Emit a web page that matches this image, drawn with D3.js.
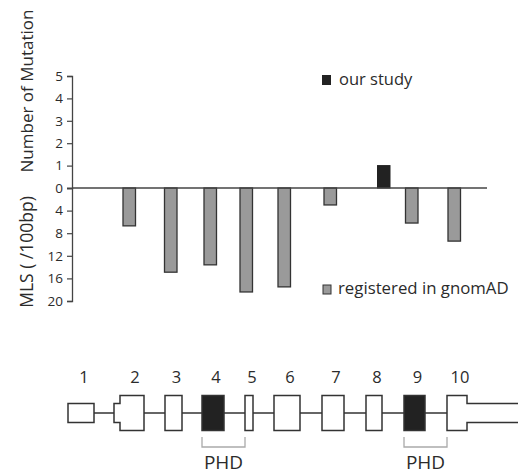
<!DOCTYPE html>
<html>
<head>
<meta charset="utf-8">
<script src="https://cdn.jsdelivr.net/npm/d3@7"></script>
<style>
  body { margin: 0; background: #fff; }
  text { font-family: "Open Sans", "Noto Sans", sans-serif; fill: #2b2b2b; }
  .tick text { font-size: 13.5px; }
</style>
</head>
<body>
<svg id="chart" width="518" height="475"></svg>
<script>
// exons of the gene, bars hang off each exon
var exonIds = ["1", "2", "3", "4", "5", "6", "7", "8", "9", "10"];
var ourStudy = [0, 0, 0, 0, 0, 0, 0, 1, 0, 0];
var gnomadMLS = [0, 6.7, 14.9, 13.6, 18.4, 17.5, 3.0, 0, 6.2, 9.4];

// gene structure in gene coordinate units
var utrStart = [0, 46, null, null, null, null, null, null, null, 399];
var utrEnd = [26, 52, null, null, null, null, null, null, null, 470];
var cdsStart = [null, 52, 97, 134, 177, 206, 254, 298, 336, 379];
var cdsEnd = [null, 76, 114, 156, 185, 232, 276, 314, 357, 399];
var phdExons = [["4", "5"], ["9", "10"]];

var countTicks = [0, 1, 2, 3, 4, 5];
var mlsTicks = [4, 8, 12, 16, 20];

var svg = d3.select("#chart");

var geneX = d3.scaleLinear().domain([0, 450]).range([68, 518]);
var yCount = d3.scaleLinear().domain([0, 5]).range([188, 76]);
var yMLS = d3.scaleLinear().domain([0, 20]).range([188, 301]);
var sub = d3.scaleBand().domain(["gnomad", "our"]).range([-9, 16]);

function exonCenter(i) {
    return geneX((cdsStart[i] + cdsEnd[i]) / 2);
}

// ---- y axes ----
var axisG = svg.append("g").attr("transform", "translate(72,0)");
axisG.append("g").call(d3.axisLeft(yCount).tickValues(countTicks).tickSize(5).tickPadding(4).tickFormat(d3.format("d")));
axisG.append("g").call(d3.axisLeft(yMLS).tickValues(mlsTicks).tickSize(5).tickPadding(4).tickFormat(d3.format("d")));
axisG.selectAll("g").attr("font-size", 13.5).attr("font-family", null);
axisG.selectAll(".domain").attr("stroke", "#444").attr("stroke-width", 1.3);
axisG.selectAll(".tick line").attr("stroke", "#444").attr("stroke-width", 1.2);
axisG.selectAll(".tick text").attr("font-size", 13.5).attr("fill", "#2b2b2b");

svg.append("text")
    .attr("transform", "translate(33,91) rotate(-90)")
    .attr("text-anchor", "middle")
    .style("font-size", "17px")
    .text("Number of Mutation");

svg.append("text")
    .attr("transform", "translate(33,252) rotate(-90)")
    .attr("text-anchor", "middle")
    .style("font-size", "17.5px")
    .text("MLS ( /100bp)");

// ---- bars ----
var idx = d3.range(exonIds.length);

svg.append("g").selectAll("rect")
    .data(idx.filter(function(i) { return gnomadMLS[i] > 0; }))
    .enter().append("rect")
    .attr("x", function(i) { return exonCenter(i) + sub("gnomad"); })
    .attr("y", yMLS(0))
    .attr("width", sub.bandwidth())
    .attr("height", function(i) { return yMLS(gnomadMLS[i]) - yMLS(0); })
    .attr("fill", "#9a9a9a")
    .attr("stroke", "#333")
    .attr("stroke-width", 1.3);

svg.append("g").selectAll("rect")
    .data(idx.filter(function(i) { return ourStudy[i] > 0; }))
    .enter().append("rect")
    .attr("x", function(i) { return exonCenter(i) + sub("our"); })
    .attr("y", function(i) { return yCount(ourStudy[i]); })
    .attr("width", sub.bandwidth())
    .attr("height", function(i) { return yCount(0) - yCount(ourStudy[i]); })
    .attr("fill", "#222")
    .attr("stroke", "#222")
    .attr("stroke-width", 1);

// zero line
svg.append("line")
    .attr("x1", 72).attr("x2", 487)
    .attr("y1", yCount(0)).attr("y2", yCount(0))
    .attr("stroke", "#444").attr("stroke-width", 1.3);

// ---- legends ----
svg.append("rect").attr("x", 322).attr("y", 75).attr("width", 9).attr("height", 10).attr("fill", "#222");
svg.append("text").attr("x", 339).attr("y", 85).style("font-size", "16.5px").text("our study");

svg.append("rect").attr("x", 323).attr("y", 285).attr("width", 8).attr("height", 9)
    .attr("fill", "#9a9a9a").attr("stroke", "#333").attr("stroke-width", 1);
svg.append("text").attr("x", 338).attr("y", 294).style("font-size", "16.8px").text("registered in gnomAD");

// ---- gene structure ----
var midY = 413, utrH = 9.5, cdsH = 17.5;
var gene = svg.append("g");

gene.append("line")
    .attr("x1", geneX(utrEnd[0])).attr("x2", geneX(cdsStart[9]))
    .attr("y1", midY).attr("y2", midY)
    .attr("stroke", "#333").attr("stroke-width", 1.5);

function exonPath(i) {
    var p = d3.path();
    var us = utrStart[i], ue = utrEnd[i], cs = cdsStart[i], ce = cdsEnd[i];
    if (cs == null) {
        p.rect(geneX(us), midY - utrH, geneX(ue) - geneX(us), utrH * 2);
    } else if (us == null) {
        p.rect(geneX(cs), midY - cdsH, geneX(ce) - geneX(cs), cdsH * 2);
    } else if (us < cs) {
        p.moveTo(geneX(us), midY - utrH);
        p.lineTo(geneX(cs), midY - utrH);
        p.lineTo(geneX(cs), midY - cdsH);
        p.lineTo(geneX(ce), midY - cdsH);
        p.lineTo(geneX(ce), midY + cdsH);
        p.lineTo(geneX(cs), midY + cdsH);
        p.lineTo(geneX(cs), midY + utrH);
        p.lineTo(geneX(us), midY + utrH);
        p.closePath();
    } else {
        // 3' UTR runs off the right edge
        p.moveTo(geneX(ue), midY - utrH);
        p.lineTo(geneX(ce), midY - utrH);
        p.lineTo(geneX(ce), midY - cdsH);
        p.lineTo(geneX(cs), midY - cdsH);
        p.lineTo(geneX(cs), midY + cdsH);
        p.lineTo(geneX(ce), midY + cdsH);
        p.lineTo(geneX(ce), midY + utrH);
        p.lineTo(geneX(ue), midY + utrH);
    }
    return p.toString();
}

var phdSet = {};
phdExons.forEach(function(d) { phdSet[d[0]] = true; });

gene.selectAll("path.exon")
    .data(idx)
    .enter().append("path")
    .attr("class", "exon")
    .attr("d", exonPath)
    .attr("fill", function(i) { return phdSet[exonIds[i]] ? "#222" : "#fff"; })
    .attr("stroke", "#333")
    .attr("stroke-width", 1.5);

gene.selectAll("text.num")
    .data(idx)
    .enter().append("text")
    .attr("class", "num")
    .attr("x", function(i) {
        var s = cdsStart[i] != null ? cdsStart[i] : utrStart[i];
        var e = cdsEnd[i] != null ? cdsEnd[i] : utrEnd[i];
        return geneX((s + e) / 2) + 3;
    })
    .attr("y", 383)
    .attr("text-anchor", "middle")
    .style("font-size", "16.5px")
    .text(function(i) { return exonIds[i]; });

// PHD domain brackets
phdExons.forEach(function(d) {
    var a = exonIds.indexOf(d[0]), b = exonIds.indexOf(d[1]);
    var x1 = geneX(cdsStart[a]), x2 = geneX(cdsStart[b]);
    gene.append("path")
        .attr("d", "M" + x1 + ",437V447H" + x2 + "V437")
        .attr("fill", "none")
        .attr("stroke", "#aaa")
        .attr("stroke-width", 1.3);
    gene.append("text")
        .attr("x", (x1 + x2) / 2)
        .attr("y", 469)
        .attr("text-anchor", "middle")
        .style("font-size", "19px")
        .text("PHD");
});
</script>
</body>
</html>
